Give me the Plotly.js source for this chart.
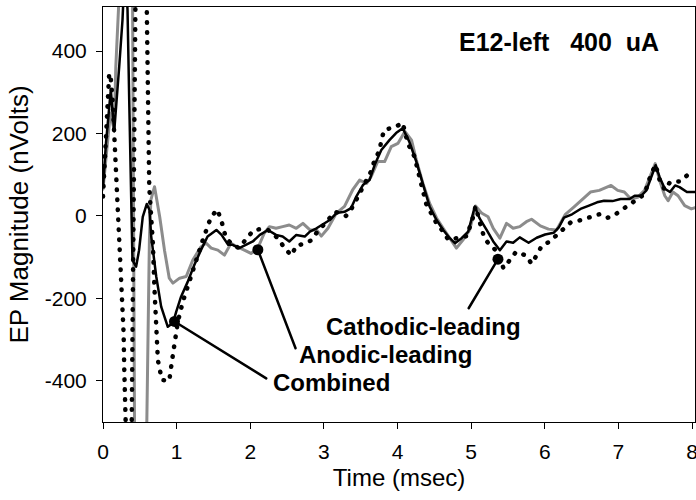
<!DOCTYPE html>
<html>
<head>
<meta charset="utf-8">
<script src="https://cdn.plot.ly/plotly-3.0.1.min.js"></script>
<style>
  html, body { margin: 0; padding: 0; background: #fff; }
  #chart { width: 696px; height: 500px; }
  .scatterlayer .js-line { stroke-linecap: round; stroke-linejoin: round; }
</style>
</head>
<body>
<div id="chart"></div>
<script>
// ---- Data ----
// Combined (solid black)
const combinedX = [0, 0.04, 0.106, 0.152, 0.22, 0.265, 0.30, 0.333, 0.356, 0.378, 0.40, 0.45, 0.49, 0.54, 0.595, 0.63,
  0.655, 0.723, 0.79, 0.88, 0.95, 0.995, 1.06, 1.15, 1.24, 1.33, 1.42, 1.54, 1.61, 1.70, 1.76, 1.85, 1.95, 2.035, 2.13,
  2.24, 2.35, 2.44, 2.53, 2.625, 2.74, 2.81, 2.90, 2.99, 3.08, 3.17, 3.28, 3.37, 3.44, 3.53, 3.62, 3.69, 3.78, 3.89,
  3.98, 4.07, 4.16, 4.255, 4.345, 4.435, 4.53, 4.62, 4.71, 4.78, 4.87, 4.96, 5.05, 5.115, 5.21, 5.30, 5.39, 5.48, 5.57,
  5.66, 5.78, 5.89, 6.005, 6.12, 6.19, 6.26, 6.37, 6.485, 6.60, 6.71, 6.805, 6.92, 7.03, 7.15, 7.22, 7.31, 7.38, 7.445,
  7.505, 7.56, 7.63, 7.70, 7.77, 7.83, 7.93, 8.04];
const combinedY = [71, 176, 306, 205, 362, 476, 620, 500, 282, 39, -107, -123, -83, -2, 29, 15,
  -50, -147, -220, -269, -260, -232, -196, -160, -119, -83, -50, -34, -46, -70, -70, -78, -70, -62, -46,
  -34, -46, -50, -62, -46, -50, -38, -30, -20, -10, 7, 10, 19, 47, 75, 87, 124, 160, 184,
  201, 213, 180, 132, 79, 23, -10, -34, -54, -66, -54, -38, 23, -6, -34, -62, -83, -62, -65,
  -52, -65, -53, -45, -41, -28, -4, 4, 17, 25, 33, 37, 36, 41, 41, 49, 49, 62, 94,
  123, 94, 66, 58, 74, 70, 58, 58];

// Anodic-leading (solid gray)
const anodicX = [0, 0.05, 0.10, 0.152, 0.174, 0.21, 0.27, 0.36, 0.40, 0.415, 0.43, 0.50, 0.58, 0.595, 0.61, 0.63, 0.65, 0.70,
  0.77, 0.835, 0.90, 0.95, 1.04, 1.13, 1.22, 1.33, 1.40, 1.47, 1.56, 1.65, 1.74, 1.81, 1.92, 2.01, 2.10, 2.19, 2.26,
  2.35, 2.44, 2.53, 2.625, 2.715, 2.81, 2.90, 2.965, 3.055, 3.17, 3.28, 3.39, 3.485, 3.58, 3.64, 3.73, 3.825, 3.915,
  4.005, 4.10, 4.19, 4.255, 4.345, 4.435, 4.53, 4.62, 4.71, 4.80, 4.89, 4.98, 5.06, 5.14, 5.23, 5.30, 5.39, 5.48,
  5.57, 5.66, 5.75, 5.82, 5.94, 6.05, 6.16, 6.28, 6.39, 6.51, 6.62, 6.74, 6.85, 6.90, 6.99, 7.08, 7.17, 7.26, 7.355,
  7.44, 7.50, 7.56, 7.63, 7.675, 7.74, 7.81, 7.90, 7.99, 8.04];
const anodicY = [65, 160, 250, 209, 362, 500, 800, 900, 600, 0, -600, -900, -700, -500, -250, -60, 39, 71,
  -2, -83, -151, -163, -151, -147, -107, -75, -66, -78, -83, -95, -66, -74, -83, -91, -79, -42, -26,
  -30, -26, -22, -30, -18, -34, -34, -49, -30, 7, 23, 63, 87, 79, 95, 132, 132, 168,
  176, 205, 184, 136, 79, 31, -5, -30, -54, -78, -58, -34, 24, 7, -2, -30, -54, -18,
  -30, -26, -14, -8, -24, -32, -34, 4, 21, 41, 58, 62, 70, 74, 62, 58, 41, 45, 62,
  102, 127, 86, 49, 37, 58, 49, 25, 17, 20];

// Cathodic-leading (dotted black)
const cathodicX = [0, 0.04, 0.06, 0.084, 0.106, 0.13, 0.152, 0.174, 0.197, 0.22, 0.242, 0.265, 0.28, 0.288, 0.296, 0.33,
  0.38, 0.415, 0.45, 0.52, 0.595, 0.628, 0.677, 0.70, 0.723, 0.745, 0.80, 0.855, 0.90, 0.935, 0.97, 1.016, 1.084,
  1.175, 1.266, 1.356, 1.46, 1.546, 1.60, 1.63, 1.67, 1.76, 1.85, 1.96, 2.05, 2.14, 2.24, 2.375, 2.47, 2.56, 2.625,
  2.72, 2.82, 2.90, 3.0, 3.155, 3.30, 3.37, 3.44, 3.51, 3.575, 3.64, 3.69, 3.76, 3.78, 3.825, 3.95, 4.07, 4.14,
  4.23, 4.32, 4.39, 4.53, 4.62, 4.69, 4.82, 4.94, 5.02, 5.06, 5.14, 5.18, 5.25, 5.34, 5.44, 5.52, 5.61, 5.745,
  5.82, 5.90, 5.96, 6.06, 6.20, 6.35, 6.49, 6.60, 6.74, 6.84, 6.93, 7.04, 7.16, 7.25, 7.355, 7.44, 7.505, 7.56,
  7.63, 7.70, 7.84, 7.93, 8.04];
const cathodicY = [47, 176, 265, 346, 334, 282, 201, 120, 39, -42, -123, -204, -285, -366, -499, -650,
  -700, 0, 700, 800, 500, 71, -66, -180, -277, -350, -398, -400, -400, -354, -305, -257, -208,
  -155, -107, -58, -6, 16, -6, -32, -54, -70, -78, -52, -34, -32, -34, -54, -79, -96, -72,
  -68, -60, -41, -20, 10, 0, 16, 39, 65, 87, 108, 136, 160, 186, 210, 214, 226, 176,
  144, 79, 29, -18, -38, -58, -52, -49, -6, 23, -30, -54, -70, -84, -127, -107, -87, -96,
  -116, -92, -72, -63, -39, -16, -10, -5, 4, -5, 0, 14, 29, 39, 53, 100, 124, 87,
  63, 82, 84, 98, 107];

// Callouts
const calloutLabels = ['Combined', 'Anodic-leading', 'Cathodic-leading'];
const calloutDotX = [0.971, 2.103, 5.364];
const calloutDotY = [-256, -82, -105];
const calloutEndX = [2.217, 2.615, 4.966];
const calloutEndY = [-394, -321, -224];
const calloutTextX = [3.098, 3.838, 4.355];
const calloutTextY = [-405, -337, -269];

const chartLabel = 'E12-left   400  uA';
const xTickVals = [0, 1, 2, 3, 4, 5, 6, 7, 8];
const yTickVals = [-400, -200, 0, 200, 400];

// ---- Traces ----
const FONT = 'Liberation Sans, Arial, Helvetica, sans-serif';
const traces = [
  { x: anodicX, y: anodicY, mode: 'lines', line: { color: '#8c8c8c', width: 3 }, hoverinfo: 'skip' },
  { x: combinedX, y: combinedY, mode: 'lines', line: { color: '#000', width: 2.5 }, hoverinfo: 'skip' },
  { x: cathodicX, y: cathodicY, mode: 'lines', line: { color: '#000', width: 4.5, dash: '0.5px,9.5px' }, hoverinfo: 'skip' }
];
for (let i = 0; i < calloutLabels.length; i++) {
  traces.push({ x: [calloutDotX[i], calloutEndX[i]], y: [calloutDotY[i], calloutEndY[i]], mode: 'lines',
    line: { color: '#000', width: 2.5 }, hoverinfo: 'skip' });
}
traces.push({ x: calloutDotX, y: calloutDotY, mode: 'markers', marker: { color: '#000', size: 11 }, hoverinfo: 'skip' });

const annotations = calloutLabels.map((t, i) => ({
  x: calloutTextX[i], y: calloutTextY[i], xref: 'x', yref: 'y', text: '<b>' + t + '</b>',
  showarrow: false, font: { family: FONT, size: 24, color: '#000' }, xanchor: 'center', yanchor: 'middle'
}));
annotations.push({ x: 6.19, y: 422, xref: 'x', yref: 'y', text: '<b>' + chartLabel + '</b>', showarrow: false,
  font: { family: FONT, size: 25, color: '#000' }, xanchor: 'center', yanchor: 'middle' });

const layout = {
  width: 696, height: 500,
  margin: { l: 103, r: 1, t: 7, b: 78, pad: 0 },
  paper_bgcolor: '#fff', plot_bgcolor: '#fff',
  showlegend: false,
  font: { family: FONT, size: 21, color: '#000' },
  xaxis: {
    range: [0, 8.04], tickvals: xTickVals, ticktext: xTickVals.map(String),
    showgrid: false, zeroline: false, showline: true, linecolor: '#000', linewidth: 1, mirror: true,
    ticks: 'outside', ticklen: 6, tickwidth: 1, tickcolor: '#000',
    ticklabeloverflow: 'allow', ticklabelstandoff: 5,
    tickfont: { family: FONT, size: 21 },
    title: { text: 'Time (msec)', font: { family: FONT, size: 24 }, standoff: 6 }
  },
  yaxis: {
    range: [-500, 507], tickvals: yTickVals, ticktext: yTickVals.map(String),
    showgrid: false, zeroline: false, showline: true, linecolor: '#000', linewidth: 1, mirror: true,
    ticks: 'outside', ticklen: 6, tickwidth: 1, tickcolor: '#000',
    ticklabelstandoff: 5,
    tickfont: { family: FONT, size: 21 },
    title: { text: 'EP Magnitude (nVolts)', font: { family: FONT, size: 26 }, standoff: 8 }
  },
  annotations: annotations
};

Plotly.newPlot('chart', traces, layout, { staticPlot: true, displayModeBar: false });
</script>
</body>
</html>
